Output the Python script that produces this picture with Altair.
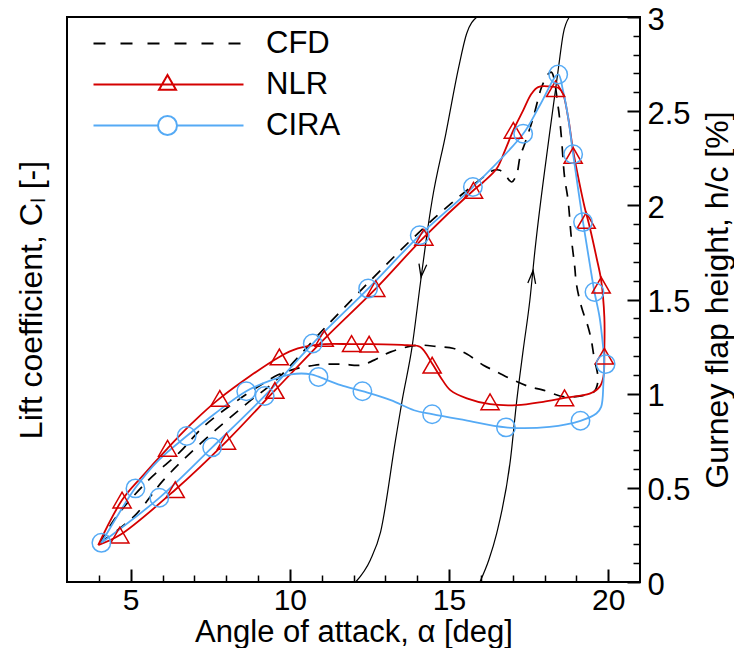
import altair as alt
import pandas as pd

FONT = "Liberation Sans"

# ---------------- data ----------------
SERIES = ["CFD", "NLR", "CIRA"]
SERIES_COLORS = ["#000000", "#d40000", "#55aaf5"]

cfd_alpha = [4.05, 5.09, 6.03, 6.97, 7.91, 8.74, 9.57, 11.08, 13.06, 14.52, 16.08, 16.40, 16.60,
             16.81, 16.97, 17.13, 17.23, 17.38, 17.65, 17.91, 18.12, 18.22, 18.43, 18.53, 18.63,
             18.74, 18.84, 18.95, 19.00, 19.16, 19.37, 19.47, 19.55, 19.68, 19.55, 19.20, 18.63,
             17.96, 17.54, 17.02, 16.50, 16.08, 15.56, 15.15, 14.63, 14.00, 13.17, 12.65, 12.23,
             11.60, 10.77, 10.04, 9.63, 9.16, 8.22, 7.28, 6.55, 5.56, 4.52, 4.05]
cfd_cl = [0.210, 0.346, 0.541, 0.700, 0.842, 0.960, 1.072, 1.346, 1.691, 1.929, 2.150, 2.186, 2.186,
          2.150, 2.124, 2.168, 2.256, 2.327, 2.468, 2.628, 2.698, 2.707, 2.521, 2.362, 2.150,
          2.027, 1.832, 1.673, 1.585, 1.461, 1.354, 1.284, 1.200, 1.070, 1.010, 0.990, 0.983,
          1.019, 1.036, 1.072, 1.116, 1.151, 1.210, 1.240, 1.250, 1.257, 1.222, 1.178, 1.151,
          1.157, 1.151, 1.125, 1.100, 1.054, 0.948, 0.824, 0.691, 0.541, 0.340, 0.210]

nlr_alpha = [3.98, 4.66, 6.40, 8.01, 9.53, 11.08, 12.70, 14.21, 15.77, 16.08, 16.50, 16.76, 17.02,
             17.33, 17.59, 17.80, 18.17, 18.43, 18.58, 18.74, 18.90, 19.10, 19.26, 19.42, 19.63,
             19.78, 19.88, 19.88, 19.85, 19.73, 19.42, 18.63, 17.96, 17.13, 16.29, 15.56, 15.04,
             14.73, 14.47, 14.10, 13.69, 12.49, 11.94, 11.08, 10.25, 9.67, 7.80, 6.92, 6.16, 5.35,
             4.73, 3.98]
nlr_cl = [0.196, 0.249, 0.490, 0.747, 1.017, 1.290, 1.558, 1.830, 2.080, 2.124, 2.195, 2.292, 2.398,
          2.504, 2.592, 2.628, 2.631, 2.624, 2.592, 2.469, 2.290, 2.115, 1.990, 1.885, 1.726,
          1.602, 1.407, 1.230, 1.089, 1.036, 1.000, 0.978, 0.957, 0.939, 0.944, 0.975, 1.019,
          1.089, 1.160, 1.248, 1.257, 1.263, 1.263, 1.263, 1.240, 1.195, 0.975, 0.842, 0.710, 0.559,
          0.435, 0.196]

cira_alpha = [4.08, 5.90, 7.56, 9.21, 10.72, 12.46, 14.08, 15.75, 17.33, 17.85, 18.43, 18.58, 18.74,
              18.90, 19.21, 19.42, 19.57, 19.73, 19.83, 19.87, 19.85, 19.78, 19.63, 19.13, 18.16,
              16.79, 15.50, 14.47, 13.90, 13.17, 12.28, 11.60, 10.90, 10.67, 10.04, 9.42, 8.63,
              7.65, 6.76, 5.88, 5.15, 4.63, 4.08]
cira_cl = [0.208, 0.447, 0.715, 0.988, 1.266, 1.558, 1.841, 2.097, 2.380, 2.530, 2.695, 2.610, 2.470,
           2.271, 1.911, 1.690, 1.540, 1.407, 1.266, 1.190, 1.054, 0.930, 0.895, 0.856, 0.824,
           0.821, 0.859, 0.891, 0.912, 0.966, 1.013, 1.045, 1.090, 1.103, 1.103, 1.072, 1.013,
           0.895, 0.775, 0.647, 0.500, 0.364, 0.208]

nlr_mark_alpha = [4.66, 6.40, 8.01, 9.53, 11.08, 12.70, 14.21, 15.77, 17.02, 18.35, 18.90, 19.31,
                  19.78, 19.88, 18.63, 16.29, 14.47, 12.49, 11.94, 9.67, 7.80, 6.16, 4.73]
nlr_mark_cl = [0.249, 0.490, 0.747, 1.017, 1.293, 1.558, 1.830, 2.080, 2.398, 2.619, 2.265, 1.920,
               1.576, 1.199, 0.978, 0.957, 1.151, 1.263, 1.266, 1.195, 0.975, 0.710, 0.435]

cira_mark_alpha = [4.08, 5.90, 7.56, 9.21, 10.72, 12.46, 14.08, 15.75, 17.33, 18.43, 18.90, 19.21,
                   19.57, 19.92, 19.13, 16.79, 14.47, 12.28, 10.90, 8.63, 6.76, 5.15]
cira_mark_cl = [0.208, 0.447, 0.715, 0.988, 1.266, 1.558, 1.841, 2.097, 2.380, 2.695, 2.271, 1.911,
                1.540, 1.157, 0.856, 0.821, 0.891, 1.013, 1.089, 1.013, 0.775, 0.497]

# Gurney flap motion (right axis, h/c in %)
gurney_down_alpha = [12.07, 12.53, 12.85, 13.32, 13.53, 13.84, 14.10, 14.31, 14.47, 14.90, 15.30,
                     15.55, 15.875]
gurney_down_h = [0.0, 0.117, 0.265, 0.753, 0.966, 1.248, 1.585, 1.850, 2.027, 2.380, 2.730,
                 2.910, 3.0]
gurney_up_alpha = [15.97, 16.25, 16.50, 16.93, 17.13, 17.33, 17.54, 17.70, 18.16, 18.44, 18.59, 18.78]
gurney_up_h = [0.0, 0.117, 0.260, 0.650, 0.966, 1.231, 1.496, 1.761, 2.382, 2.732, 2.912, 3.0]

arrow_alpha = [14.15, 17.62]
arrow_h = [1.653, 1.620]
arrow_angle = [8, 186]

x_major = [5, 10, 15, 20]
x_minor = [4, 6, 7, 8, 9, 11, 12, 13, 14, 16, 17, 18, 19]
y_major = [0.0, 0.5, 1.0, 1.5, 2.0, 2.5, 3.0]
y_minor = [0.1, 0.2, 0.3, 0.4, 0.6, 0.7, 0.8, 0.9, 1.1, 1.2, 1.3, 1.4, 1.6, 1.7, 1.8, 1.9,
           2.1, 2.2, 2.3, 2.4, 2.6, 2.7, 2.8, 2.9]

# ---------------- tables ----------------
def series_frame(name, a, v):
    return pd.DataFrame({"series": name, "idx": list(range(len(a))), "alpha": a, "val": v})

cfd_line = series_frame("CFD", cfd_alpha, cfd_cl)
nlr_line = series_frame("NLR", nlr_alpha, nlr_cl)
cira_line = series_frame("CIRA", cira_alpha, cira_cl)
nlr_marks = series_frame("NLR", nlr_mark_alpha, nlr_mark_cl)
cira_marks = series_frame("CIRA", cira_mark_alpha, cira_mark_cl)
gurney = pd.concat([pd.DataFrame({"curve": "down", "idx": list(range(len(gurney_down_alpha))),
                                  "alpha": gurney_down_alpha, "val": gurney_down_h}),
                    pd.DataFrame({"curve": "up", "idx": list(range(len(gurney_up_alpha))),
                                  "alpha": gurney_up_alpha, "val": gurney_up_h})],
                   ignore_index=True)
arrows = pd.DataFrame({"alpha": arrow_alpha, "val": arrow_h, "ang": arrow_angle})
anchor = pd.DataFrame({"alpha": [x_major[0]], "val": [y_major[0]]})
legend_rows = pd.DataFrame({"series": SERIES, "alpha": [x_major[0]] * 3, "val": [y_major[0]] * 3})

# ---------------- scales / helpers ----------------
XS = alt.Scale(domain=[3, 21], nice=False, zero=False)
YS = alt.Scale(domain=[0, 3], nice=False, zero=False)
COLOR = alt.Scale(domain=SERIES, range=SERIES_COLORS)
C_CFD, C_NLR, C_CIRA = SERIES_COLORS


def X(axis=None):
    return alt.X("alpha:Q", scale=XS, axis=axis)


def Y(axis=None):
    return alt.Y("val:Q", scale=YS, axis=axis)


CHEVRON = "M-0.6,-1L0,1L0.6,-1"
LEG_PATHS = [
    "M-1,0H0.2M1.7,0H2.9M4.4,0H5.6M7.1,0H8.3M9.8,0H11M12.5,0H13.7",
    "M-1,0H14M6.4,-0.95L7.25,0.52L5.55,0.52Z",
    "M-1,0H5.45M7.35,0H14M5.45,0A0.95,0.95 0 1,1 7.35,0A0.95,0.95 0 1,1 5.45,0Z",
]

text_style = dict(labelFont=FONT, labelColor="black", titleFont=FONT, titleColor="black",
                  titleFontWeight="normal", grid=False, labelFlush=False)

LEG = alt.Legend(
    title=None, orient="none", legendX=21, legendY=11, direction="vertical",
    labelFont=FONT, labelFontSize=31, labelColor="black", labelLimit=0,
    labelOffset=147, symbolSize=400, symbolStrokeWidth=2, symbolOpacity=1,
    rowPadding=9, padding=0,
)

# ---------------- layers ----------------
gurney_layer = alt.Chart(gurney).mark_line(
    color="black", strokeWidth=1.2, interpolate="monotone", clip=True
).encode(x=X(), y=Y(), detail="curve:N", order="idx:Q")

arrow_layer = alt.Chart(arrows).mark_point(
    shape=CHEVRON, size=169, strokeWidth=1.3, color="black", filled=False, opacity=1
).encode(x=X(), y=Y(), angle=alt.Angle("ang:Q", scale=None))


def loop_layer(df, color, dash=None, width=1.8):
    kw = dict(color=color, strokeWidth=width, interpolate="catmull-rom", clip=True)
    if dash is not None:
        kw["strokeDash"] = dash
    return alt.Chart(df).mark_line(**kw).encode(x=X(), y=Y(), order="idx:Q")


cfd_layer = loop_layer(cfd_line, C_CFD, dash=[11, 9], width=1.7)
nlr_layer = loop_layer(nlr_line, C_NLR)
cira_layer = loop_layer(cira_line, C_CIRA)

nlr_marker_layer = alt.Chart(nlr_marks).mark_point(
    shape="triangle-up", filled=False, size=330, strokeWidth=1.5, opacity=1, color=C_NLR
).encode(x=X(), y=Y())

cira_marker_layer = alt.Chart(cira_marks).mark_point(
    shape="circle", filled=False, size=340, strokeWidth=1.5, opacity=1, color=C_CIRA
).encode(x=X(), y=Y())

legend_layer = alt.Chart(legend_rows).mark_point(
    filled=False, opacity=0, size=1
).encode(
    x=X(), y=Y(),
    color=alt.Color("series:N", scale=COLOR, legend=LEG),
    shape=alt.Shape("series:N", scale=alt.Scale(domain=SERIES, range=LEG_PATHS), legend=LEG),
)


# axis layers (invisible anchor mark, each carrying one axis pair)
def axis_layer(xa, ya):
    return alt.Chart(anchor).mark_point(opacity=0, size=1).encode(x=X(xa), y=Y(ya))


ax_titles = axis_layer(
    alt.Axis(orient="bottom", values=x_major, ticks=False, domain=False, labelPadding=3,
             labelFontSize=30, title="Angle of attack, α [deg]", titleFontSize=31,
             titleY=59, titleBaseline="alphabetic", **text_style),
    alt.Axis(orient="left", labels=False, ticks=False, domain=False,
             title="Lift coefficient, Cₗ [-]", titleFontSize=32, titleX=-36, titleY=282.5,
             titleAngle=270, titleAlign="center", titleBaseline="middle", **text_style),
)
ax_right = axis_layer(
    None,
    alt.Axis(orient="right", values=y_major, labelExpr="toString(datum.value)", ticks=False,
             domain=False, labelPadding=7, labelFontSize=31, labelAlign="left",
             labelBaseline="middle", labelOffset=3,
             title="Gurney flap height, h/c [%]", titleFontSize=32,
             titleX=77, titleY=282.5, titleAngle=270, titleAlign="center",
             titleBaseline="middle", **text_style),
)
ax_major = axis_layer(
    alt.Axis(orient="bottom", offset=-13, tickSize=13, tickWidth=2, tickColor="black",
             values=x_major, labels=False, domain=False, grid=False, title=None),
    alt.Axis(orient="right", offset=-13, tickSize=13, tickWidth=2, tickColor="black",
             values=y_major, labels=False, domain=False, grid=False, title=None),
)
ax_minor = axis_layer(
    alt.Axis(orient="bottom", offset=-7, tickSize=7, tickWidth=1.5, tickColor="black",
             values=x_minor, labels=False, domain=False, grid=False, title=None),
    alt.Axis(orient="right", offset=-7, tickSize=7, tickWidth=1.5, tickColor="black",
             values=y_minor, labels=False, domain=False, grid=False, title=None),
)

chart = alt.layer(
    gurney_layer, arrow_layer, cfd_layer, nlr_layer, cira_layer,
    nlr_marker_layer, cira_marker_layer, legend_layer,
    ax_titles, ax_right, ax_major, ax_minor,
).resolve_scale(
    x="independent", y="independent"
).properties(
    width=573, height=565,
    padding={"left": 59, "top": 9, "right": 94, "bottom": 66},
    autosize=alt.AutoSizeParams(type="none"),
    background="white",
).configure_view(stroke="black", strokeWidth=2)

chart.save("out.html", embed_options={"renderer": "svg", "actions": False})
